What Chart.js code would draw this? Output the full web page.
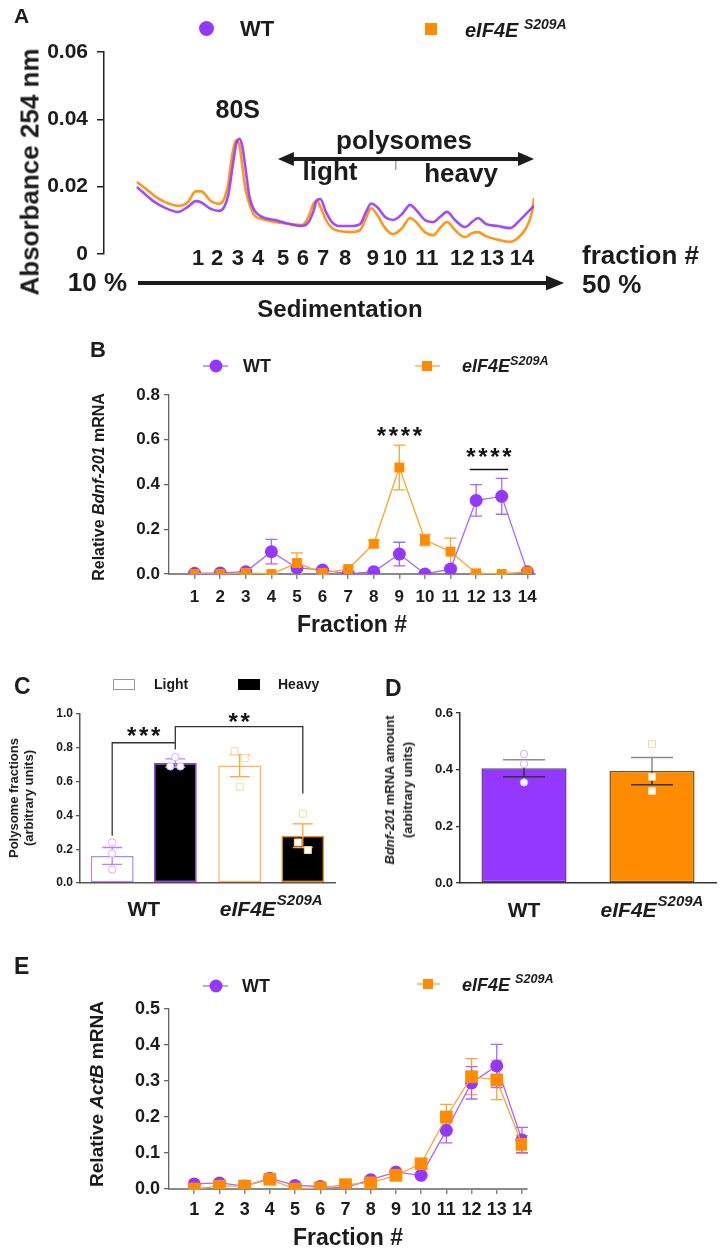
<!DOCTYPE html>
<html>
<head>
<meta charset="utf-8">
<title>Polysome profiling – Bdnf-201 / ActB</title>
<script src="https://cdn.jsdelivr.net/npm/chart.js@4.4.1/dist/chart.umd.min.js"></script>
<style>
  body { margin: 0; background: #fff; }
  #page { position: relative; width: 720px; height: 1250px; overflow: hidden; background: #fff;
          font-family: 'Liberation Sans', Arial, sans-serif; color: #1c1c1c; }
  canvas { position: absolute; }
  .t { position: absolute; white-space: nowrap; line-height: 1; transform: translateY(-50%); font-weight: bold; }
  .rot { position: absolute; white-space: nowrap; font-weight: bold; text-align: center;
         transform: translate(-50%, -50%) rotate(-90deg); }
  .sup { position: relative; font-size: 0.7em; }
  .leg { position: absolute; }
</style>
</head>
<body>
<div id="page">
  <canvas id="cA" width="720" height="320" style="left:0;top:0"></canvas>
  <canvas id="cB" width="720" height="320" style="left:0;top:320px"></canvas>
  <canvas id="cC" width="360" height="300" style="left:0;top:640px"></canvas>
  <canvas id="cD" width="360" height="300" style="left:360px;top:640px"></canvas>
  <canvas id="cE" width="720" height="310" style="left:0;top:940px"></canvas>

  <!-- panel letters -->
  <div class="t" style="left:14px;top:15px;font-size:21px">A</div>
  <div class="t" style="left:90px;top:350px;font-size:22px">B</div>
  <div class="t" style="left:14px;top:686px;font-size:23px">C</div>
  <div class="t" style="left:385px;top:688px;font-size:23px">D</div>
  <div class="t" style="left:14px;top:966px;font-size:23px">E</div>

  <!-- legend A -->
  <div class="leg" style="left:199px;top:21px;width:15px;height:15px;border-radius:50%;background:#9438ff"></div>
  <div class="t" style="left:240px;top:29px;font-size:22px">WT</div>
  <div class="leg" style="left:425px;top:23px;width:12px;height:12px;background:#ff8c00"></div>
  <div class="t" style="left:465px;top:30px;font-size:20px;font-style:italic">eIF4E <span class="sup" style="top:-8px">S209A</span></div>

  <!-- legend B -->
  <svg class="leg" style="left:200px;top:357px" width="32" height="18"><line x1="3" y1="9" x2="28" y2="9" stroke="#a868ff" stroke-width="1.3"/><circle cx="16" cy="9" r="6.5" fill="#9438ff"/></svg>
  <div class="t" style="left:243px;top:366px;font-size:18px">WT</div>
  <svg class="leg" style="left:411px;top:357px" width="32" height="18"><line x1="4" y1="9" x2="29" y2="9" stroke="#ffa333" stroke-width="1.3"/><rect x="11" y="4" width="10" height="10" fill="#ff8c00"/></svg>
  <div class="t" style="left:462px;top:366px;font-size:18px;font-style:italic">eIF4E<span class="sup" style="top:-7px">S209A</span></div>

  <!-- legend C -->
  <div class="leg" style="left:113px;top:679px;width:20px;height:9px;border:1px solid #9a9a9a;background:#fff"></div>
  <div class="t" style="left:154px;top:684px;font-size:14px">Light</div>
  <div class="leg" style="left:238px;top:679px;width:22px;height:11px;background:#000"></div>
  <div class="t" style="left:278px;top:684px;font-size:14px">Heavy</div>

  <!-- legend E -->
  <svg class="leg" style="left:200px;top:977px" width="32" height="18"><line x1="3" y1="9" x2="28" y2="9" stroke="#a868ff" stroke-width="1.3"/><circle cx="16" cy="9" r="6.5" fill="#9438ff"/></svg>
  <div class="t" style="left:242px;top:986px;font-size:18px">WT</div>
  <svg class="leg" style="left:412px;top:975px" width="32" height="18"><line x1="5" y1="9" x2="28" y2="9" stroke="#ffa333" stroke-width="1.3"/><rect x="11" y="4" width="10" height="10" fill="#ff8c00"/></svg>
  <div class="t" style="left:462px;top:985px;font-size:18px;font-style:italic">eIF4E <span class="sup" style="top:-8px">S209A</span></div>

  <!-- axis titles -->
  <div class="rot" style="left:30px;top:172px;font-size:26px">Absorbance 254 nm</div>
  <div class="rot" style="left:99px;top:487px;font-size:16px">Relative <i>Bdnf-201</i> mRNA</div>
  <div class="rot" style="left:21px;top:798px;font-size:13px;line-height:15px">Polysome fractions<br>(arbitrary units)</div>
  <div class="rot" style="left:399px;top:790px;font-size:13px;line-height:18px"><i>Bdnf-201</i> mRNA amount<br>(arbitrary units)</div>
  <div class="rot" style="left:97px;top:1094px;font-size:19px">Relative <i>ActB</i> mRNA</div>
</div>

<script>
// ---- Panel A: absorbance trace (gradient position 0-100)
const traceX = [0, 2, 4.5, 7.1, 10.3, 12.8, 14.8, 16.2, 18.6, 20.6, 22, 23, 24, 25, 25.8, 26.5, 27.3, 28.3,
  29.5, 31.5, 34.8, 38.5, 41.6, 43.2, 44.5, 45.3, 46.2, 47.6, 49.1, 51.1, 53.7, 56.2, 57.7, 59, 60.6,
  62.5, 64.5, 66.8, 68.8, 70.3, 72.5, 74.6, 76.3, 78.1, 80.1, 82.6, 84.4, 85.9, 87.9, 90.9, 94, 96, 98, 99.5, 100];
const traceWT = [0.0199, 0.0178, 0.0154, 0.0137, 0.0125, 0.0140, 0.0157, 0.0153, 0.0134, 0.0128, 0.0140,
  0.0175, 0.0252, 0.0327, 0.0342, 0.0322, 0.0258, 0.0172, 0.0131, 0.0110, 0.0101, 0.0089, 0.0083, 0.0094,
  0.0128, 0.0160, 0.0163, 0.0125, 0.0095, 0.0083, 0.0083, 0.0089, 0.0125, 0.0150, 0.0138, 0.0110, 0.0101,
  0.0119, 0.0146, 0.0131, 0.0101, 0.0095, 0.0110, 0.0125, 0.0101, 0.0080, 0.0095, 0.0107, 0.0089, 0.0083,
  0.0077, 0.0095, 0.0119, 0.0137, 0.0143];
const traceS209A = [0.0214, 0.0196, 0.0172, 0.0154, 0.0143, 0.0154, 0.0186, 0.0186, 0.0157, 0.0149, 0.0165,
  0.0210, 0.0295, 0.0337, 0.0323, 0.0265, 0.0195, 0.0150, 0.0116, 0.0104, 0.0095, 0.0089, 0.0086, 0.0110,
  0.0150, 0.0158, 0.0140, 0.0101, 0.0077, 0.0068, 0.0065, 0.0071, 0.0107, 0.0136, 0.0114, 0.0077, 0.0059,
  0.0077, 0.0107, 0.0095, 0.0065, 0.0056, 0.0077, 0.0095, 0.0071, 0.0050, 0.0062, 0.0065, 0.0053, 0.0042,
  0.0036, 0.0048, 0.0077, 0.0125, 0.0166];
const fractionPos = [15.4, 20.2, 25.4, 30.5, 36.8, 41.8, 46.9, 52.4, 59.4, 65.0, 73.0, 81.9, 89.4, 97.0];
const absTicks = [0, 0.02, 0.04, 0.06];

// ---- Panels B and E: qPCR across fractions
const fractions = [1, 2, 3, 4, 5, 6, 7, 8, 9, 10, 11, 12, 13, 14];
const bdnfWT = [0.003, 0.005, 0.01, 0.1, 0.027, 0.018, 0.0, 0.01, 0.089, 0.0, 0.022, 0.329, 0.347, 0.01];
const bdnfWTErr = [0.003, 0.004, 0.006, 0.055, 0.012, 0.006, 0.003, 0.005, 0.053, 0.003, 0.01, 0.07, 0.08, 0.008];
const bdnfS209A = [0.0, 0.0, 0.005, 0.0, 0.049, 0.005, 0.022, 0.135, 0.476, 0.152, 0.1, 0.003, 0.0, 0.01];
const bdnfS209AErr = [0.003, 0.003, 0.004, 0.003, 0.045, 0.005, 0.01, 0.015, 0.1, 0.025, 0.06, 0.004, 0.003, 0.006];
const bdnfTicks = [0, 0.2, 0.4, 0.6, 0.8];

const actbWT = [0.014, 0.017, 0.008, 0.03, 0.01, 0.007, 0.004, 0.026, 0.047, 0.038, 0.163, 0.295, 0.342, 0.136];
const actbWTErr = [0.003, 0.004, 0.003, 0.006, 0.003, 0.003, 0.003, 0.004, 0.005, 0.005, 0.035, 0.045, 0.06, 0.035];
const actbS209A = [0.0, 0.008, 0.008, 0.027, 0.0, 0.003, 0.012, 0.017, 0.038, 0.07, 0.2, 0.312, 0.303, 0.124];
const actbS209AErr = [0.002, 0.003, 0.003, 0.006, 0.002, 0.002, 0.003, 0.004, 0.005, 0.006, 0.035, 0.05, 0.055, 0.025];
const actbTicks = [0, 0.1, 0.2, 0.3, 0.4, 0.5];

// ---- Panels C and D: bar summaries (mean, SEM, replicates)
const genotypes = ['WT', 'eIF4E^S209A'];
const polyLight = [0.16, 0.695];
const polyLightErr = [0.05, 0.065];
const polyLightPts = [[0.24, 0.175, 0.08], [0.78, 0.74, 0.57]];
const polyHeavy = [0.71, 0.28];
const polyHeavyErr = [0.025, 0.07];
const polyHeavyPts = [[0.745, 0.69, 0.69], [0.41, 0.24, 0.195]];
const polyTicks = [0, 0.2, 0.4, 0.6, 0.8, 1.0];

const bdnfTotal = [0.405, 0.395];
const bdnfTotalErr = [0.03, 0.048];
const bdnfTotalPts = [[0.455, 0.42, 0.355], [0.49, 0.375, 0.325]];
const totalTicks = [0, 0.2, 0.4, 0.6];

// ---- styling
const FONT = "'Liberation Sans', Arial, sans-serif";
const PURPLE = '#9438ff', PURPLE_LINE = '#a868ff', PURPLE_PALE = '#d3b0ff';
const ORANGE = '#ff8c00', ORANGE_LINE = '#ffa333', ORANGE_PALE = '#ffd59c';
const INK = '#1c1c1c';

Chart.defaults.font.family = FONT;
Chart.defaults.color = INK;

const bold = size => ({ family: FONT, size: size, weight: 'bold' });
const fixTicks = list => scale => { scale.ticks = list.map(v => ({ value: v })); };
const pick = (v, i) => Array.isArray(v) ? v[i] : v;

function drawStars(ctx, n, cx, cy) {
  ctx.save();
  ctx.font = 'bold 24px ' + FONT;
  ctx.fillStyle = '#111';
  ctx.textAlign = 'center';
  ctx.textBaseline = 'alphabetic';
  for (let i = 0; i < n; i++) ctx.fillText('*', cx + (i - (n - 1) / 2) * 12, cy + 13);
  ctx.restore();
}

// genotype label, with superscript allele after '^'
function drawGenotype(ctx, cx, base, label) {
  const [main, sup] = label.split('^');
  ctx.save();
  ctx.fillStyle = INK;
  ctx.textBaseline = 'alphabetic';
  ctx.textAlign = 'left';
  const f1 = (sup ? 'italic ' : '') + 'bold 21px ' + FONT;
  const f2 = 'italic bold 15px ' + FONT;
  ctx.font = f1;
  const w1 = ctx.measureText(main).width;
  let w2 = 0;
  if (sup) { ctx.font = f2; w2 = ctx.measureText(sup).width + 1; }
  const x0 = cx - (w1 + w2) / 2;
  ctx.font = f1;
  ctx.fillText(main, x0, base);
  if (sup) { ctx.font = f2; ctx.fillText(sup, x0 + w1 + 1, base - 11); }
  ctx.restore();
}

function arrowHead(ctx, x, y, dir, len, half) {
  ctx.beginPath();
  ctx.moveTo(x, y);
  ctx.lineTo(x - dir * len, y - half);
  ctx.lineTo(x - dir * len, y + half);
  ctx.closePath();
  ctx.fill();
}

// error bars from dataset.errors (SEM)
function drawErrors(chart, opts) {
  const ctx = chart.ctx, ys = chart.scales.y;
  const cap = opts.cap || 6;
  ctx.save();
  ctx.lineWidth = opts.width || 1.2;
  chart.data.datasets.forEach((ds, di) => {
    if (!ds.errors) return;
    const meta = chart.getDatasetMeta(di);
    meta.data.forEach((el, i) => {
      const raw = ds.data[i];
      const v = typeof raw === 'object' ? raw.y : raw;
      const e = ds.errors[i];
      if (!e) return;
      const x = el.x, ym = ys.getPixelForValue(v);
      const yu = ys.getPixelForValue(v + e), yd = ys.getPixelForValue(Math.max(ys.min, v - e));
      ctx.strokeStyle = pick(ds.errColor, i);
      ctx.beginPath();
      ctx.moveTo(x, ym); ctx.lineTo(x, yu);
      ctx.moveTo(x - cap, yu); ctx.lineTo(x + cap, yu);
      ctx.stroke();
      ctx.strokeStyle = pick(ds.errColorDown || ds.errColor, i);
      ctx.beginPath();
      ctx.moveTo(x, ym); ctx.lineTo(x, yd);
      ctx.moveTo(x - cap, yd); ctx.lineTo(x + cap, yd);
      ctx.stroke();
    });
  });
  ctx.restore();
}

const errorBars = {
  id: 'errorBars',
  beforeDatasetsDraw(chart, args, opts) { if (chart.config.type !== 'bar') drawErrors(chart, opts); },
  afterDatasetsDraw(chart, args, opts) { if (chart.config.type === 'bar') drawErrors(chart, opts); }
};

// replicate dots on top of bars
const dotPoints = {
  id: 'dotPoints',
  afterDatasetsDraw(chart) {
    const ctx = chart.ctx, ys = chart.scales.y;
    ctx.save();
    chart.data.datasets.forEach((ds, di) => {
      if (!ds.points) return;
      const meta = chart.getDatasetMeta(di);
      ds.points.forEach((pts, i) => {
        const cx = meta.data[i].x;
        const py = pts.map(v => ys.getPixelForValue(v));
        const off = py.map(() => 0);
        for (let a = 0; a < py.length; a++) {
          for (let b = a + 1; b < py.length; b++) {
            if (Math.abs(py[a] - py[b]) < 9 && !off[a] && !off[b]) { off[a] = -5; off[b] = 5; }
          }
        }
        ctx.fillStyle = '#fff';
        ctx.strokeStyle = pick(ds.ptColor, i);
        ctx.lineWidth = 1;
        py.forEach((p, k) => {
          ctx.beginPath();
          if (pick(ds.ptShape, i) === 'rect') ctx.rect(cx + off[k] - 3.5, p - 3.5, 7, 7);
          else ctx.arc(cx + off[k], p, 3.7, 0, Math.PI * 2);
          ctx.fill();
          ctx.stroke();
        });
      });
    });
    ctx.restore();
  }
};

// ---------------- Panel A ----------------
const profileDecor = {
  id: 'profileDecor',
  afterDraw(chart) {
    const { ctx, scales: { x } } = chart;
    ctx.save();
    ctx.fillStyle = INK;
    ctx.strokeStyle = INK;
    ctx.textAlign = 'center';
    ctx.textBaseline = 'middle';

    ctx.font = 'bold 22px ' + FONT;
    fractionPos.forEach((p, i) => ctx.fillText(String(fractions[i]), x.getPixelForValue(p), 259));

    ctx.font = 'bold 25px ' + FONT;
    ctx.fillText('80S', x.getPixelForValue(fractionPos[2]), 111);

    // polysome double arrow
    const p0 = x.getPixelForValue(35.5), p1 = x.getPixelForValue(100);
    ctx.lineWidth = 4;
    ctx.beginPath(); ctx.moveTo(p0 + 10, 159); ctx.lineTo(p1 - 10, 159); ctx.stroke();
    arrowHead(ctx, p0, 159, -1, 16, 7);
    arrowHead(ctx, p1, 159, 1, 16, 7);
    ctx.font = 'bold 26px ' + FONT;
    ctx.fillText('polysomes', 404, 142);
    ctx.fillText('light', 330, 173);
    ctx.fillText('heavy', 461, 175);
    ctx.strokeStyle = '#777';
    ctx.lineWidth = 1;
    const mid = x.getPixelForValue(65.2);
    ctx.beginPath(); ctx.moveTo(mid, 161); ctx.lineTo(mid, 170); ctx.stroke();

    // sedimentation axis
    ctx.strokeStyle = INK;
    ctx.lineWidth = 4;
    ctx.beginPath(); ctx.moveTo(138, 283); ctx.lineTo(550, 283); ctx.stroke();
    arrowHead(ctx, 564, 283, 1, 18, 7.5);
    ctx.textAlign = 'left';
    ctx.fillText('fraction #', 582, 257);
    ctx.fillText('50 %', 582, 286);
    ctx.textAlign = 'right';
    ctx.fillText('10 %', 127, 284);
    ctx.textAlign = 'center';
    ctx.font = 'bold 24px ' + FONT;
    ctx.fillText('Sedimentation', 340, 310);
    ctx.restore();
  }
};

new Chart(document.getElementById('cA'), {
  type: 'line',
  data: {
    datasets: [
      { label: 'WT', data: traceX.map((u, i) => ({ x: u, y: traceWT[i] })),
        borderColor: 'rgba(148,56,255,0.9)', borderWidth: 2.6, pointRadius: 0, cubicInterpolationMode: 'monotone' },
      { label: 'eIF4E S209A', data: traceX.map((u, i) => ({ x: u, y: traceS209A[i] })),
        borderColor: 'rgba(255,140,0,0.9)', borderWidth: 2.6, pointRadius: 0, cubicInterpolationMode: 'monotone' }
    ]
  },
  options: {
    responsive: false, animation: false, devicePixelRatio: 1,
    layout: { padding: { top: 52, right: 186, bottom: 66, left: 0 } },
    plugins: { legend: { display: false }, tooltip: { enabled: false } },
    scales: {
      x: { type: 'linear', min: -8.3, max: 100, display: false },
      y: {
        min: 0, max: 0.06,
        afterFit: s => { s.width = 104; },
        afterBuildTicks: fixTicks(absTicks),
        grid: { drawOnChartArea: false, tickLength: 7, color: '#222', lineWidth: 1.5 },
        border: { color: '#222', width: 1.5 },
        ticks: { padding: 9, color: INK, font: bold(21), callback: v => v === 0 ? '0' : v.toFixed(2) }
      }
    }
  },
  plugins: [profileDecor]
});

// ---------------- Panels B and E ----------------
function fractionChart(id, wt, wtErr, mut, mutErr, yMax, yTicks, opt) {
  return new Chart(document.getElementById(id), {
    type: 'line',
    data: {
      datasets: [
        { label: 'eIF4E S209A', data: fractions.map((f, i) => ({ x: f, y: mut[i] })), errors: mutErr,
          errColor: ORANGE_LINE, borderColor: ORANGE_LINE, borderWidth: 1.3, pointStyle: 'rect',
          pointRadius: opt.sq, pointBackgroundColor: ORANGE, pointBorderWidth: 0 },
        { label: 'WT', data: fractions.map((f, i) => ({ x: f, y: wt[i] })), errors: wtErr,
          errColor: PURPLE_LINE, borderColor: PURPLE_LINE, borderWidth: 1.3, pointStyle: 'circle',
          pointRadius: opt.dot, pointBackgroundColor: PURPLE, pointBorderWidth: 0 }
      ]
    },
    options: {
      responsive: false, animation: false, devicePixelRatio: 1,
      layout: { padding: opt.pad },
      plugins: { legend: { display: false }, tooltip: { enabled: false }, errorBars: { cap: 6, width: 1.3 } },
      scales: {
        x: {
          type: 'linear', min: 0, max: opt.xMax,
          afterBuildTicks: fixTicks(fractions),
          afterFit: s => { s.height = opt.xH; },
          grid: { drawOnChartArea: false, tickLength: 5, color: '#8a8a8a', lineWidth: 1.5 },
          border: { color: '#8a8a8a', width: 2 },
          ticks: { padding: opt.xPad, color: INK, font: bold(opt.tickSize) },
          title: { display: true, text: 'Fraction #', color: INK, font: bold(23), padding: { top: 0, bottom: opt.titlePad } }
        },
        y: {
          min: 0, max: yMax,
          afterBuildTicks: fixTicks(yTicks),
          afterFit: s => { s.width = 169; },
          grid: { drawOnChartArea: false, tickLength: 5, color: '#666', lineWidth: 1.3 },
          border: { color: '#666', width: 1.3 },
          ticks: { padding: 4, color: INK, font: bold(opt.tickSize), callback: v => v.toFixed(1) }
        }
      }
    },
    plugins: [errorBars].concat(opt.extra || [])
  });
}

const bdnfDecor = {
  id: 'bdnfDecor',
  afterDraw(chart) {
    const { ctx, scales: { x, y } } = chart;
    drawStars(ctx, 4, x.getPixelForValue(9), y.getPixelForValue(0.64));
    drawStars(ctx, 4, x.getPixelForValue(12.5), y.getPixelForValue(0.547));
    const yl = y.getPixelForValue(0.467);
    ctx.save();
    ctx.strokeStyle = '#111';
    ctx.lineWidth = 1.5;
    ctx.beginPath();
    ctx.moveTo(x.getPixelForValue(11.75), yl);
    ctx.lineTo(x.getPixelForValue(13.25), yl);
    ctx.stroke();
    ctx.restore();
  }
};

fractionChart('cB', bdnfWT, bdnfWTErr, bdnfS209A, bdnfS209AErr, 0.8, bdnfTicks, {
  pad: { top: 75, right: 185, bottom: 1, left: 0 }, xMax: 14.3, xH: 65, xPad: 8, tickSize: 17,
  titlePad: 0, sq: 7, dot: 6.5, extra: [bdnfDecor]
});

fractionChart('cE', actbWT, actbWTErr, actbS209A, actbS209AErr, 0.5, actbTicks, {
  pad: { top: 69, right: 193, bottom: 0, left: 0 }, xMax: 14.2, xH: 61, xPad: 5, tickSize: 18,
  titlePad: -2, sq: 9, dot: 6.5
});

// ---------------- Panel C ----------------
const polyDecor = {
  id: 'polyDecor',
  afterDraw(chart) {
    const { ctx, scales: { x, y } } = chart;
    const light = chart.getDatasetMeta(0).data, heavy = chart.getDatasetMeta(1).data;
    genotypes.forEach((g, i) => drawGenotype(ctx, x.getPixelForTick(i), 276, g));
    ctx.save();
    ctx.strokeStyle = '#333';
    ctx.lineWidth = 1.3;
    ctx.beginPath();
    ctx.moveTo(light[0].x, y.getPixelForValue(0.28));
    ctx.lineTo(light[0].x, y.getPixelForValue(0.83));
    ctx.lineTo(heavy[0].x, y.getPixelForValue(0.83));
    ctx.lineTo(heavy[0].x, y.getPixelForValue(0.79));
    ctx.moveTo(heavy[0].x, y.getPixelForValue(0.83));
    ctx.lineTo(heavy[0].x, y.getPixelForValue(0.925));
    ctx.lineTo(heavy[1].x, y.getPixelForValue(0.925));
    ctx.lineTo(heavy[1].x, y.getPixelForValue(0.53));
    ctx.stroke();
    ctx.restore();
    drawStars(ctx, 3, (light[0].x + heavy[0].x) / 2, y.getPixelForValue(0.9));
    drawStars(ctx, 2, (heavy[0].x + heavy[1].x) / 2, y.getPixelForValue(0.985));
  }
};

new Chart(document.getElementById('cC'), {
  type: 'bar',
  data: {
    labels: genotypes,
    datasets: [
      { label: 'Light', data: polyLight, errors: polyLightErr, points: polyLightPts,
        backgroundColor: ['#ffffff', '#ffffff'], borderColor: ['#b583ff', '#ffb25a'], borderWidth: 1.5,
        borderSkipped: false, errColor: ['#b583ff', '#ffa333'], ptColor: [PURPLE_PALE, ORANGE_PALE], ptShape: ['circle', 'rect'],
        categoryPercentage: 0.99, barPercentage: 0.68 },
      { label: 'Heavy', data: polyHeavy, errors: polyHeavyErr, points: polyHeavyPts,
        backgroundColor: ['#000000', '#000000'], borderColor: [PURPLE, ORANGE], borderWidth: 1.5,
        borderSkipped: false, errColor: ['#b583ff', '#ffa333'], ptColor: [PURPLE_PALE, ORANGE_PALE], ptShape: ['circle', 'rect'],
        categoryPercentage: 0.99, barPercentage: 0.68 }
    ]
  },
  options: {
    responsive: false, animation: false, devicePixelRatio: 1,
    layout: { padding: { top: 74, right: 25, bottom: 57, left: 0 } },
    plugins: { legend: { display: false }, tooltip: { enabled: false }, errorBars: { cap: 10, width: 1.3 } },
    scales: {
      x: { afterFit: s => { s.height = 0; }, ticks: { display: false }, grid: { display: false },
           border: { color: '#555', width: 1.5 } },
      y: {
        min: 0, max: 1,
        afterBuildTicks: fixTicks(polyTicks),
        afterFit: s => { s.width = 80; },
        grid: { drawOnChartArea: false, tickLength: 4, color: '#555', lineWidth: 1.3 },
        border: { color: '#555', width: 1.5 },
        ticks: { padding: 3, color: INK, font: bold(12), callback: v => v.toFixed(1) }
      }
    }
  },
  plugins: [errorBars, dotPoints, polyDecor]
});

// ---------------- Panel D ----------------
const totalDecor = {
  id: 'totalDecor',
  afterDraw(chart) {
    const { ctx, scales: { x } } = chart;
    genotypes.forEach((g, i) => drawGenotype(ctx, x.getPixelForTick(i), 277, g));
  }
};

new Chart(document.getElementById('cD'), {
  type: 'bar',
  data: {
    labels: genotypes,
    datasets: [
      { label: 'Bdnf-201', data: bdnfTotal, errors: bdnfTotalErr, points: bdnfTotalPts,
        backgroundColor: [PURPLE, ORANGE], borderColor: ['#5b3f86', '#7a5426'], borderWidth: 1.5,
        borderSkipped: false, errColor: '#8c8c8c', errColorDown: '#333', ptColor: [PURPLE_PALE, ORANGE_PALE],
        ptShape: ['circle', 'rect'], categoryPercentage: 1, barPercentage: 0.665 }
    ]
  },
  options: {
    responsive: false, animation: false, devicePixelRatio: 1,
    layout: { padding: { top: 73, right: 4, bottom: 57, left: 0 } },
    plugins: { legend: { display: false }, tooltip: { enabled: false }, errorBars: { cap: 21, width: 1.5 } },
    scales: {
      x: { afterFit: s => { s.height = 0; }, ticks: { display: false }, grid: { display: false },
           border: { color: '#333', width: 1.5 } },
      y: {
        min: 0, max: 0.6,
        afterBuildTicks: fixTicks(totalTicks),
        afterFit: s => { s.width = 100; },
        grid: { drawOnChartArea: false, tickLength: 4, color: '#333', lineWidth: 1.3 },
        border: { color: '#333', width: 1.5 },
        ticks: { padding: 3, color: INK, font: bold(13), callback: v => v.toFixed(1) }
      }
    }
  },
  plugins: [errorBars, dotPoints, totalDecor]
});
</script>
</body>
</html>
